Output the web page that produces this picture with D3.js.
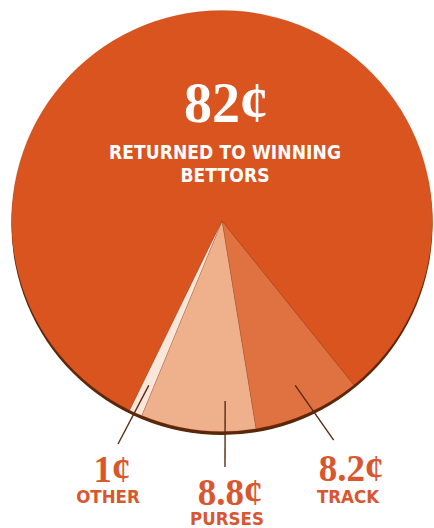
<!DOCTYPE html>
<meta charset="utf-8">
<script src="https://d3js.org/d3.v7.min.js"></script>
<style>
  html, body { margin: 0; padding: 0; background: #fff; }
</style>
<div id="chart"></div>
<script>
    // where each racing dollar goes, in cents
    const categories = ["RETURNED TO WINNING BETTORS", "TRACK", "PURSES", "OTHER"];
    const cents = [82, 8.2, 8.8, 1];
    const colors = ["#d9541e", "#e07242", "#efb18c", "#fbe7da"];

    const width = 434, height = 528;
    const cx = 222, cy = 221, radius = 210.5;

    // layout of the outside labels (value baseline, label baseline, leader angles in degrees)
    const labelLayout = {
        "TRACK":  {x: 351, y: 481, lx: 348, ly: 503, a0: 156, a1: 153},
        "PURSES": {x: 230, y: 505, lx: 227, ly: 525, a0: 179, a1: 179.3},
        "OTHER":  {x: 112, y: 482, lx: 108, ly: 503, a0: 204, a1: 205}
    };

    const condensed = "'Liberation Sans Narrow', 'DejaVu Sans Condensed', sans-serif";

    const svg = d3.select("#chart")
        .append("svg")
            .attr("width", width)
            .attr("height", height)
            .style("display", "block");

    const data = categories.map((c, i) => ({name: c, value: cents[i], color: colors[i]}));

    const startA = (141.2 - 295.2) * Math.PI / 180;
    const pie = d3.pie()
        .sort(null)
        .value(d => d.value)
        .startAngle(startA)
        .endAngle(startA + 2 * Math.PI);

    const arc = d3.arc().innerRadius(0).outerRadius(radius);

    const g = svg.append("g")
        .attr("transform", `translate(${cx},${cy})`);

    // drop shadow under the pie
    g.append("circle")
        .attr("cx", 0)
        .attr("cy", 3.5)
        .attr("r", radius)
        .attr("fill", "#5b2709");

    g.selectAll("path.slice")
        .data(pie(data))
        .join("path")
            .attr("class", "slice")
            .attr("d", arc)
            .attr("fill", d => d.data.color)
            .attr("stroke", "rgba(150,50,15,0.35)")
            .attr("stroke-width", 0.6);

    // big label inside the pie
    const main = data[0];
    svg.append("text")
        .attr("x", cx + 4)
        .attr("y", 122)
        .attr("text-anchor", "middle")
        .attr("fill", "#fff")
        .style("font-family", "'Liberation Serif', serif")
        .style("font-weight", "bold")
        .style("font-size", "56px")
        .text(main.value + "¢");

    const words = main.name.split(" ");
    const lines = [words.slice(0, 3).join(" "), words.slice(3).join(" ")];
    svg.append("g").selectAll("text")
        .data(lines)
        .join("text")
            .attr("x", cx + 3)
            .attr("y", (d, i) => 159 + i * 23)
            .attr("text-anchor", "middle")
            .attr("fill", "#fff")
            .style("font-family", condensed)
            .style("font-weight", "bold")
            .style("font-size", "19px")
            .style("letter-spacing", "0.1px")
            .text(d => d);

    // outside labels with leader lines
    const toXY = (deg, r) => {
        const a = deg * Math.PI / 180;
        return [cx + r * Math.sin(a), cy - r * Math.cos(a)];
    };

    const outside = data.slice(1);
    const lab = svg.append("g").selectAll("g")
        .data(outside)
        .join("g");

    lab.append("line")
        .each(function(d) {
            const L = labelLayout[d.name];
            const p0 = toXY(L.a0, 180), p1 = toXY(L.a1, 246);
            d3.select(this)
                .attr("x1", p0[0]).attr("y1", p0[1])
                .attr("x2", p1[0]).attr("y2", p1[1]);
        })
        .attr("stroke", "#5b2a10")
        .attr("stroke-width", 1.4);

    lab.append("text")
        .attr("x", d => labelLayout[d.name].x)
        .attr("y", d => labelLayout[d.name].y)
        .attr("text-anchor", "middle")
        .attr("fill", "#d9572f")
        .style("font-family", "'Liberation Serif', serif")
        .style("font-weight", "bold")
        .style("font-size", "37px")
        .text(d => d.value + "¢");

    lab.append("text")
        .attr("x", d => labelLayout[d.name].lx)
        .attr("y", d => labelLayout[d.name].ly)
        .attr("text-anchor", "middle")
        .attr("fill", "#d9572f")
        .style("font-family", condensed)
        .style("font-weight", "bold")
        .style("font-size", "18.5px")
        .text(d => d.name);
</script>
